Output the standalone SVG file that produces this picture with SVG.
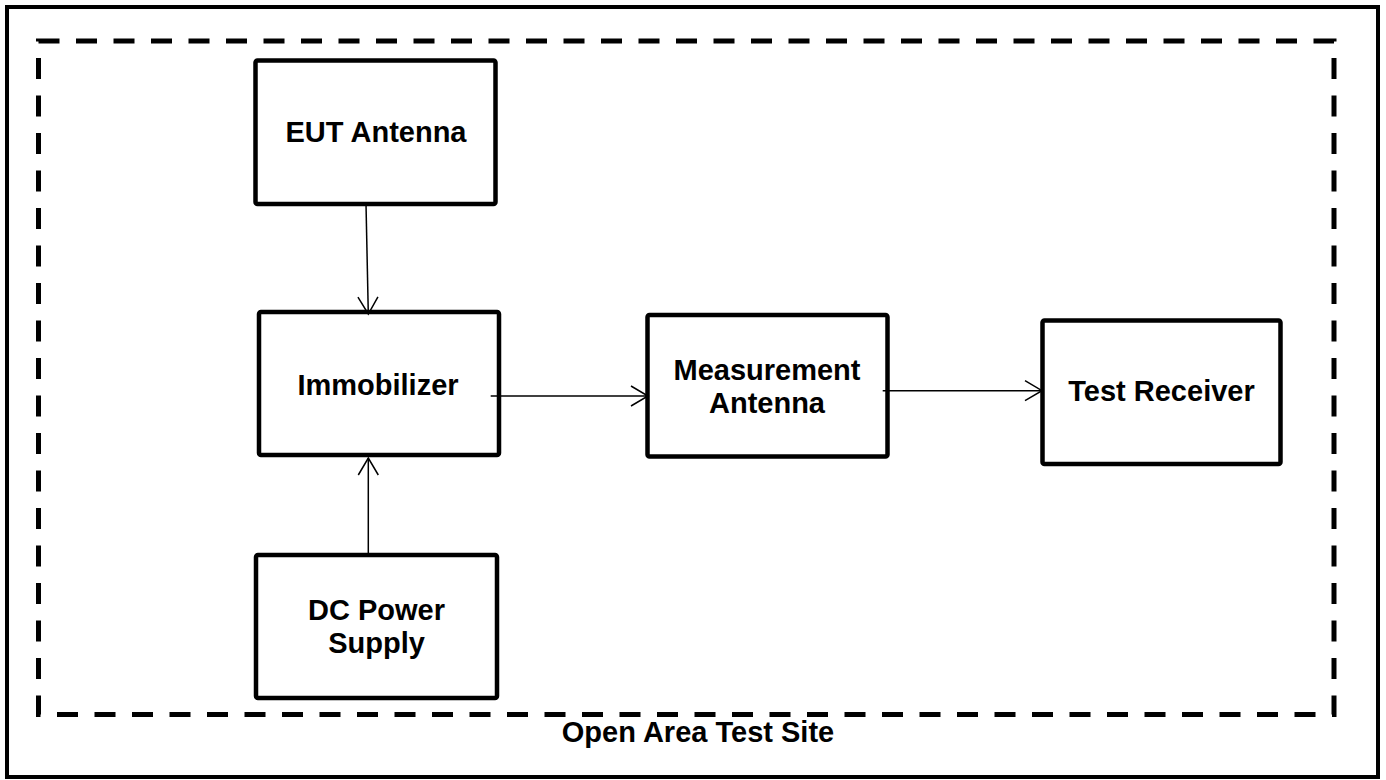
<svg xmlns="http://www.w3.org/2000/svg" width="1386" height="780" viewBox="0 0 1386 780">
<style>
.frame{fill:none;stroke:#000;stroke-width:4}
.site{fill:none;stroke:#000;stroke-width:5;stroke-dasharray:21 16.5}
.box{fill:#fff;stroke:#000;stroke-width:4.5}
.lbl{font-family:"Liberation Sans",Arial,sans-serif;font-weight:bold;font-size:29px;fill:#000;text-anchor:middle}
.conn{fill:none;stroke:#000;stroke-width:1.5}
</style>
<defs>
<marker id="arr" markerUnits="userSpaceOnUse" viewBox="-20 -12 22 24" refX="0" refY="0" markerWidth="22" markerHeight="24" orient="auto">
<path d="M-17,-10 L0,0 L-17,10" fill="none" stroke="#000" stroke-width="1.5"/>
</marker>
</defs>
<rect width="1386" height="780" fill="#fff"/>
<rect class="frame" x="7" y="7" width="1371" height="770"/>
<g id="site">
<rect class="site" x="38.5" y="41" width="1295.5" height="673.5"/>
<text class="lbl" x="698" y="742">Open Area Test Site</text>
</g>
<g id="eut-antenna">
<rect class="box" x="255.5" y="60.5" width="240" height="143.5" rx="2"/>
<text class="lbl" x="376" y="142">EUT Antenna</text>
</g>
<g id="immobilizer">
<rect class="box" x="259" y="312" width="240" height="143" rx="2"/>
<text class="lbl" x="378" y="395">Immobilizer</text>
</g>
<g id="measurement-antenna">
<rect class="box" x="647.5" y="315" width="240" height="141.5" rx="2"/>
<text class="lbl" x="767" y="380">Measurement</text>
<text class="lbl" x="767" y="413">Antenna</text>
</g>
<g id="test-receiver">
<rect class="box" x="1042.5" y="320.5" width="238" height="143.5" rx="2"/>
<text class="lbl" x="1161.5" y="401">Test Receiver</text>
</g>
<g id="dc-power-supply">
<rect class="box" x="256" y="555" width="241" height="143" rx="2"/>
<text class="lbl" x="376.5" y="620">DC Power</text>
<text class="lbl" x="376.5" y="653">Supply</text>
</g>
<g id="connectors">
<path class="conn" d="M366,204 L368.3,314" marker-end="url(#arr)"/>
<path class="conn" d="M368.3,555 L368.3,458" marker-end="url(#arr)"/>
<path class="conn" d="M490.7,396 L648,396" marker-end="url(#arr)"/>
<path class="conn" d="M882.7,390.7 L1042,390.7" marker-end="url(#arr)"/>
</g>
</svg>
